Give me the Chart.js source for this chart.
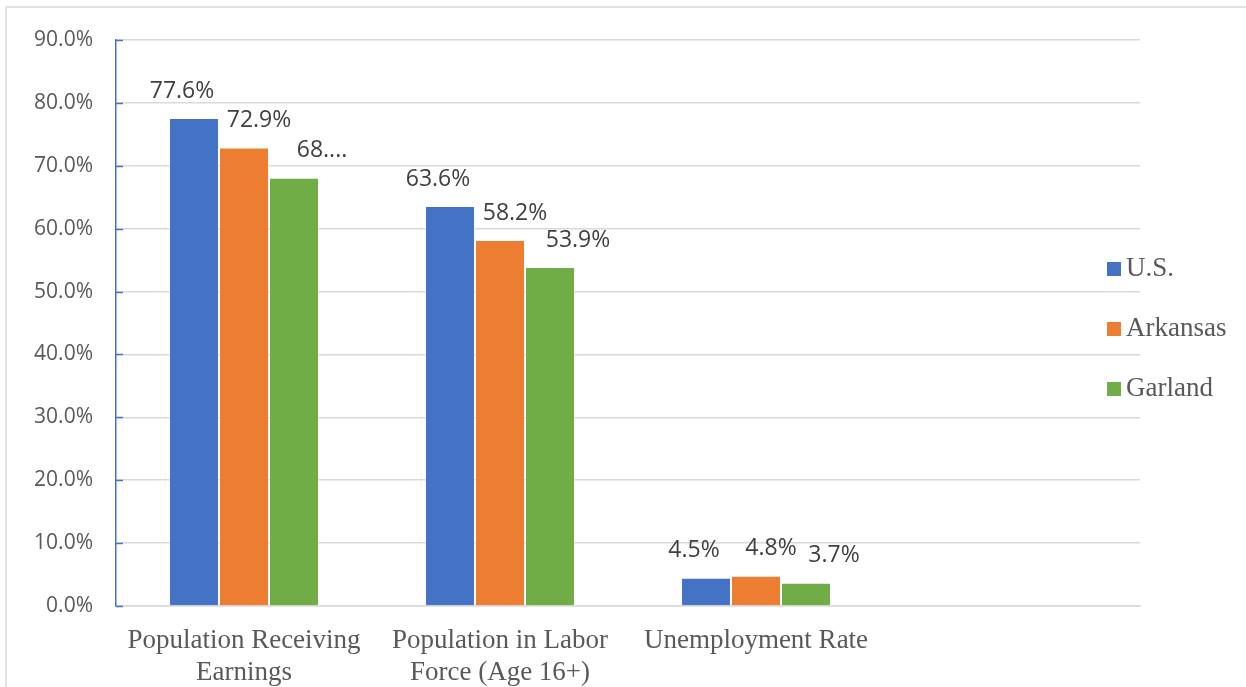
<!DOCTYPE html>
<html>
<head>
<meta charset="utf-8">
<script src="https://cdn.jsdelivr.net/npm/chart.js@4"></script>
<style>
  html, body { margin: 0; padding: 0; background: #fff; }
  #wrap { width: 1246px; height: 687px; }
</style>
</head>
<body>
<div id="wrap"><canvas id="chart" width="1246" height="687"></canvas></div>
<script>
const categories = [['Population Receiving', 'Earnings'], ['Population in Labor', 'Force (Age 16+)'], 'Unemployment Rate', '']
const seriesNames = ['U.S.', 'Arkansas', 'Garland']
const usValues = [77.6, 63.6, 4.5]
const arkansasValues = [72.9, 58.2, 4.8]
const garlandValues = [68.1, 53.9, 3.7]
// the first Garland label is cut off in the original
const usLabels = ['77.6%', '63.6%', '4.5%']
const arkansasLabels = ['72.9%', '58.2%', '4.8%']
const garlandLabels = ['68....', '53.9%', '3.7%']
const yMax = 90
const yStep = 10

const colors = ['#4472C4', '#ED7D31', '#70AD47']
// labels sit a little off their bars, spread apart like the original
const labelShift = [-12, 15, 28]

const frame = {
  id: 'frame',
  beforeDraw(chart) {
    const ctx = chart.ctx
    ctx.save()
    ctx.strokeStyle = '#d9d9d9'
    ctx.lineWidth = 1.5
    ctx.beginPath()
    ctx.moveTo(6, 687)
    ctx.lineTo(6, 7)
    ctx.lineTo(1246, 7)
    ctx.stroke()
    ctx.restore()
  }
}

const axisTicks = {
  id: 'axisTicks',
  afterDraw(chart) {
    const ctx = chart.ctx
    const y = chart.scales.y
    const left = chart.chartArea.left
    ctx.save()
    ctx.strokeStyle = '#4472C4'
    ctx.lineWidth = 1.5
    y.ticks.forEach(t => {
      const py = Math.round(y.getPixelForValue(t.value)) + 0.5
      ctx.beginPath()
      ctx.moveTo(left, py)
      ctx.lineTo(left + 7, py)
      ctx.stroke()
    })
    ctx.restore()
  }
}

const valueLabels = {
  id: 'valueLabels',
  afterDatasetsDraw(chart) {
    const ctx = chart.ctx
    ctx.save()
    ctx.font = '23px "Open Sans"'
    ctx.fillStyle = '#404040'
    ctx.textAlign = 'center'
    ctx.textBaseline = 'middle'
    chart.data.datasets.forEach((ds, i) => {
      chart.getDatasetMeta(i).data.forEach((bar, j) => {
        if (ds.valueText[j] === undefined) return
        ctx.fillText(ds.valueText[j], bar.x + labelShift[i], bar.y - 27)
      })
    })
    ctx.restore()
  }
}

const sideLegend = {
  id: 'sideLegend',
  afterDraw(chart) {
    const ctx = chart.ctx
    ctx.save()
    ctx.font = '27px "Liberation Serif"'
    ctx.textBaseline = 'middle'
    ctx.textAlign = 'left'
    chart.data.datasets.forEach((ds, i) => {
      const cy = 269 + i * 60
      ctx.fillStyle = ds.backgroundColor
      ctx.fillRect(1107, cy - 7, 14, 14)
      ctx.fillStyle = '#595959'
      ctx.fillText(ds.label, 1126, cy)
    })
    ctx.restore()
  }
}

const datasets = [usValues, arkansasValues, garlandValues].map((values, i) => ({
  label: seriesNames[i],
  data: values,
  valueText: [usLabels, arkansasLabels, garlandLabels][i],
  backgroundColor: colors[i],
  borderColor: 'rgba(255,255,255,0.35)',
  borderWidth: 1,
  barPercentage: 1,
  categoryPercentage: 0.586
}))

new Chart(document.getElementById('chart'), {
  type: 'bar',
  data: { labels: categories, datasets: datasets },
  options: {
    responsive: false,
    animation: false,
    layout: { padding: { top: 40, right: 106, left: 0, bottom: 0 } },
    plugins: {
      legend: { display: false },
      tooltip: { enabled: false }
    },
    scales: {
      x: {
        grid: { display: false, drawTicks: false },
        border: { color: '#d9d9d9', width: 1.5 },
        ticks: {
          color: '#595959',
          font: { family: '"Liberation Serif", "Times New Roman", serif', size: 27, lineHeight: 1.18 },
          padding: 19,
          maxRotation: 0,
          autoSkip: false
        },
        afterFit(scale) { scale.height = 81 }
      },
      y: {
        min: 0,
        max: yMax,
        grid: { color: '#d9d9d9', lineWidth: 1.5, drawTicks: false },
        border: { color: '#4472C4', width: 1.5 },
        ticks: {
          stepSize: yStep,
          color: '#595959',
          font: { family: '"Open Sans"', size: 21 },
          padding: 23,
          callback: v => v.toFixed(1) + '%'
        },
        afterFit(scale) { scale.width = 116 }
      }
    }
  },
  plugins: [frame, axisTicks, valueLabels, sideLegend]
})
</script>
</body>
</html>
